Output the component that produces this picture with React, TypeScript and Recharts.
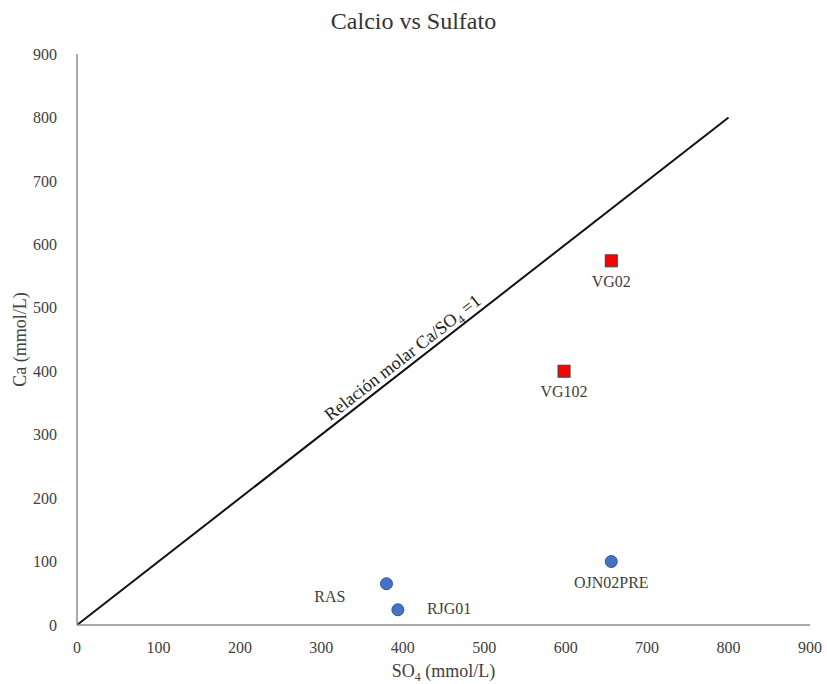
import React from "react";
import { ScatterChart, Scatter, XAxis, YAxis, ReferenceLine } from "recharts";

const AXIS_TICKS = [0, 100, 200, 300, 400, 500, 600, 700, 800, 900];

// muestras con bajo calcio (círculos azules)
const circleNames = ["OJN02PRE", "RAS", "RJG01"];
const circleSO4 = [656, 380, 394];
const circleCa = [100, 65, 24];

// muestras cercanas a la relación 1:1 (cuadros rojos)
const squareNames = ["VG02", "VG102"];
const squareSO4 = [656, 598];
const squareCa = [574, 400];

// recta Ca/SO4 = 1
const ratioStart = 0;
const ratioEnd = 800;

const SERIF = "'Liberation Serif', 'Times New Roman', serif";
const TEXT_COLOR = "#404040";

const toPoints = (names: string[], xs: number[], ys: number[]) =>
  names.map((name, i) => ({ name, so4: xs[i], ca: ys[i] }));

const circleData = toPoints(circleNames, circleSO4, circleCa);
const squareData = toPoints(squareNames, squareSO4, squareCa);

// where each point's name sits relative to its marker
const labelPos: Record<string, { dx: number; dy: number; anchor: "start" | "middle" | "end" }> = {
  VG02: { dx: 0, dy: 26, anchor: "middle" },
  VG102: { dx: 0, dy: 26, anchor: "middle" },
  OJN02PRE: { dx: 0, dy: 26, anchor: "middle" },
  RAS: { dx: -41, dy: 18, anchor: "end" },
  RJG01: { dx: 29, dy: 4, anchor: "start" },
};

function PointLabel({ cx, cy, name }: { cx: number; cy: number; name: string }) {
  const p = labelPos[name] ?? { dx: 0, dy: 24, anchor: "middle" };
  return (
    <text
      x={cx + p.dx}
      y={cy + p.dy}
      textAnchor={p.anchor}
      fontFamily={SERIF}
      fontSize={16}
      fill={TEXT_COLOR}
    >
      {name}
    </text>
  );
}

function CircleMark(props: any) {
  const { cx, cy, payload } = props;
  return (
    <g>
      <circle cx={cx} cy={cy} r={6} fill="#4472C4" stroke="#2F5597" strokeWidth={1} />
      <PointLabel cx={cx} cy={cy} name={payload.name} />
    </g>
  );
}

function SquareMark(props: any) {
  const { cx, cy, payload } = props;
  const s = 12;
  return (
    <g>
      <rect x={cx - s / 2} y={cy - s / 2} width={s} height={s} fill="#FF0000" stroke="#404040" strokeWidth={1} />
      <PointLabel cx={cx} cy={cy} name={payload.name} />
    </g>
  );
}

// 1:1 line plus its rotated caption
function RatioLine(props: any) {
  const { x1, y1, x2, y2 } = props;
  const angle = (Math.atan2(y2 - y1, x2 - x1) * 180) / Math.PI;
  const t = 0.51;
  const lx = x1 + (x2 - x1) * t;
  const ly = y1 + (y2 - y1) * t;
  return (
    <g>
      <line x1={x1} y1={y1} x2={x2} y2={y2} stroke="#111" strokeWidth={2} />
      <text
        transform={`translate(${lx},${ly}) rotate(${angle})`}
        x={0}
        y={-5}
        textAnchor="middle"
        fontFamily={SERIF}
        fontSize={18}
        fill="#222"
      >
        Relación molar Ca/SO
        <tspan fontSize={12} dy={4}>4</tspan>
        <tspan dy={-4}> =1</tspan>
      </text>
    </g>
  );
}

function XTitle(props: any) {
  const { x, y, width } = props.viewBox;
  return (
    <text x={x + width / 2} y={y + 52} textAnchor="middle" fontFamily={SERIF} fontSize={18} fill={TEXT_COLOR}>
      SO<tspan fontSize={12} dy={4}>4</tspan>
      <tspan dy={-4}> (mmol/L)</tspan>
    </text>
  );
}

function YTitle(props: any) {
  const { x, y, height } = props.viewBox;
  const cx = x + 13;
  const cy = y + height / 2;
  return (
    <text
      transform={`translate(${cx},${cy}) rotate(-90)`}
      x={0}
      y={0}
      textAnchor="middle"
      dominantBaseline="central"
      fontFamily={SERIF}
      fontSize={18}
      fill={TEXT_COLOR}
    >
      Ca (mmol/L)
    </text>
  );
}

const tickStyle = { fontFamily: SERIF, fontSize: 16, fill: TEXT_COLOR };
const axisLineStyle = { stroke: "#8c8c8c", strokeWidth: 1.5 };

export default function App() {
  return (
    <div style={{ width: 827, height: 684, position: "relative", background: "#fff" }}>
      <style>{"body{margin:0}"}</style>
      <div
        style={{
          position: "absolute",
          top: 8,
          left: 0,
          width: 827,
          textAlign: "center",
          fontFamily: SERIF,
          fontSize: 24,
          lineHeight: "26px",
          color: "#333",
        }}
      >
        Calcio vs Sulfato
      </div>
      <ScatterChart
        width={827}
        height={684}
        margin={{ top: 54, right: 17, left: 7, bottom: 9 }}
        style={{ overflow: "visible" }}
      >
        <XAxis
          type="number"
          dataKey="so4"
          domain={[0, 900]}
          ticks={AXIS_TICKS}
          interval={0}
          tickLine={false}
          tickMargin={11}
          axisLine={axisLineStyle}
          tick={tickStyle}
          height={50}
          label={{ content: XTitle }}
        />
        <YAxis
          type="number"
          dataKey="ca"
          domain={[0, 900]}
          ticks={AXIS_TICKS}
          interval={0}
          tickLine={false}
          tickMargin={14}
          axisLine={axisLineStyle}
          tick={tickStyle}
          width={70}
          label={{ content: YTitle }}
        />
        <ReferenceLine
          segment={[
            { x: ratioStart, y: ratioStart },
            { x: ratioEnd, y: ratioEnd },
          ]}
          shape={RatioLine}
        />
        <Scatter data={circleData} shape={CircleMark} isAnimationActive={false} />
        <Scatter data={squareData} shape={SquareMark} isAnimationActive={false} />
      </ScatterChart>
    </div>
  );
}
